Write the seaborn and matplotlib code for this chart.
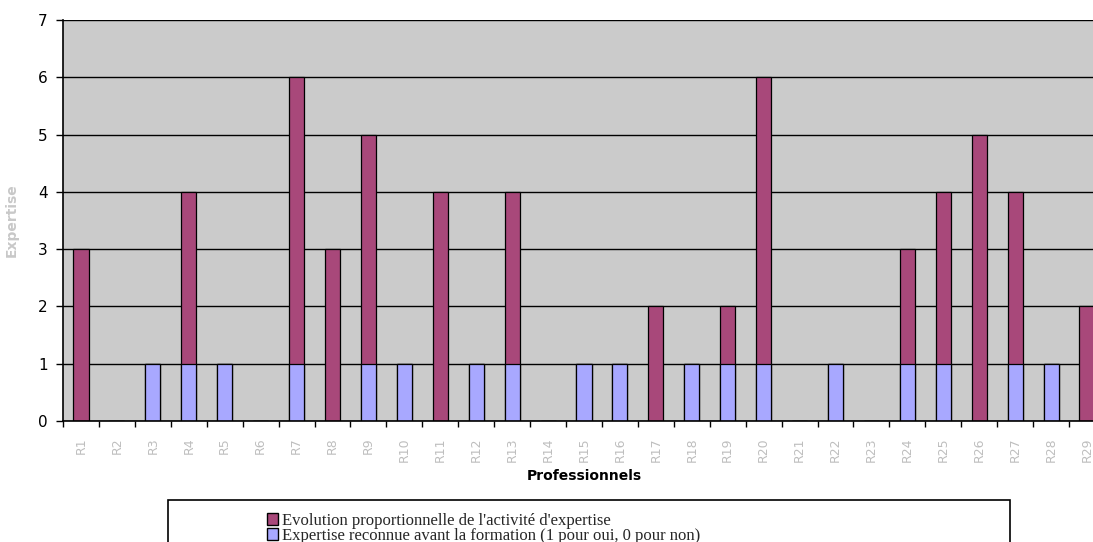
import matplotlib
matplotlib.use("Agg")
import matplotlib.pyplot as plt
import seaborn as sns
import pandas as pd
from matplotlib.patches import Patch, Rectangle

categories = [f"R{i}" for i in range(1, 30)]
# bottom series: expertise recognised before training (1 yes, 0 no)
reconnue = [0, 0, 1, 1, 1, 0, 1, 0, 1, 1, 0, 1, 1, 0, 1, 1, 0, 1, 1, 1, 0, 1, 0, 1, 1, 0, 1, 1, 0]
# top series: proportional evolution of expertise activity
evolution = [3, 0, 0, 3, 0, 0, 5, 3, 4, 0, 4, 0, 3, 0, 0, 0, 2, 0, 1, 5, 0, 0, 0, 2, 3, 5, 3, 0, 2]

lab_evol = "Evolution proportionnelle de l'activité d'expertise"
lab_rec = "Expertise reconnue avant la formation (1 pour oui, 0 pour non)"

PINK = "#A8487A"
BLUE = "#A8A8FF"
BG = "#CBCBCB"

df = pd.DataFrame({"cat": categories, "rec": reconnue, "evol": evolution})
df["total"] = df["rec"] + df["evol"]

sns.set_theme(style="white")
plt.rcParams["font.family"] = ["DejaVu Sans"]

fig = plt.figure(figsize=(10.93, 5.42), dpi=100)
ax = fig.add_axes([63 / 1093, 121 / 542, 1042 / 1093, 401 / 542])
ax.set_facecolor(BG)

sns.barplot(data=df, x="cat", y="total", order=categories, color=PINK,
            width=0.42, edgecolor="black", linewidth=0.9, ax=ax, saturation=1,
            errorbar=None, zorder=3)
sns.barplot(data=df, x="cat", y="rec", order=categories, color=BLUE,
            width=0.42, edgecolor="black", linewidth=0.9, ax=ax, saturation=1,
            errorbar=None, zorder=4)

ax.set_ylim(0, 7)
ax.set_xlim(-0.5, len(categories) - 0.5)
ax.set_yticks(range(0, 8))
ax.yaxis.grid(True, color="black", linewidth=1, zorder=1)
ax.set_axisbelow(True)
for s in ["top", "right"]:
    ax.spines[s].set_visible(False)
for s in ["left", "bottom"]:
    ax.spines[s].set_color("black")
    ax.spines[s].set_linewidth(1.2)
    ax.spines[s].set_zorder(5)

ax.tick_params(axis="y", which="major", left=True, length=5, width=1, color="black",
               labelsize=11, labelcolor="black", pad=6)
ax.set_xticks(range(len(categories)))
ax.set_xticklabels(categories, rotation=90, color="#BEBEBE", fontsize=9)
ax.tick_params(axis="x", which="major", bottom=False, length=0, pad=12)
ax.set_xticks([i - 0.5 for i in range(len(categories) + 1)], minor=True)
ax.tick_params(axis="x", which="minor", bottom=True, length=4, width=1, color="black")

ax.set_xlabel("Professionnels", fontsize=10, fontweight="bold", color="black", labelpad=5)
ax.set_ylabel("Expertise", fontsize=10, fontweight="bold", color="#C8C8C8", labelpad=14)

# legend box
fig.patches.append(Rectangle((168 / 1093, -0.05), (1010 - 168) / 1093, 0.05 + (542 - 500) / 542,
                             transform=fig.transFigure, facecolor="white", edgecolor="black",
                             linewidth=1.2, zorder=0))
handles = [Patch(facecolor=PINK, edgecolor="black", label=lab_evol),
           Patch(facecolor=BLUE, edgecolor="black", label=lab_rec)]
fig.legend(handles=handles, loc="upper left", bbox_to_anchor=(255 / 1093, 1 - 501 / 542),
           frameon=False, prop={"family": "Liberation Serif", "size": 12},
           handlelength=0.7, handleheight=0.7, handletextpad=0.2, labelspacing=-0.05,
           borderpad=0.2)

fig.savefig("out.png", dpi=100)
